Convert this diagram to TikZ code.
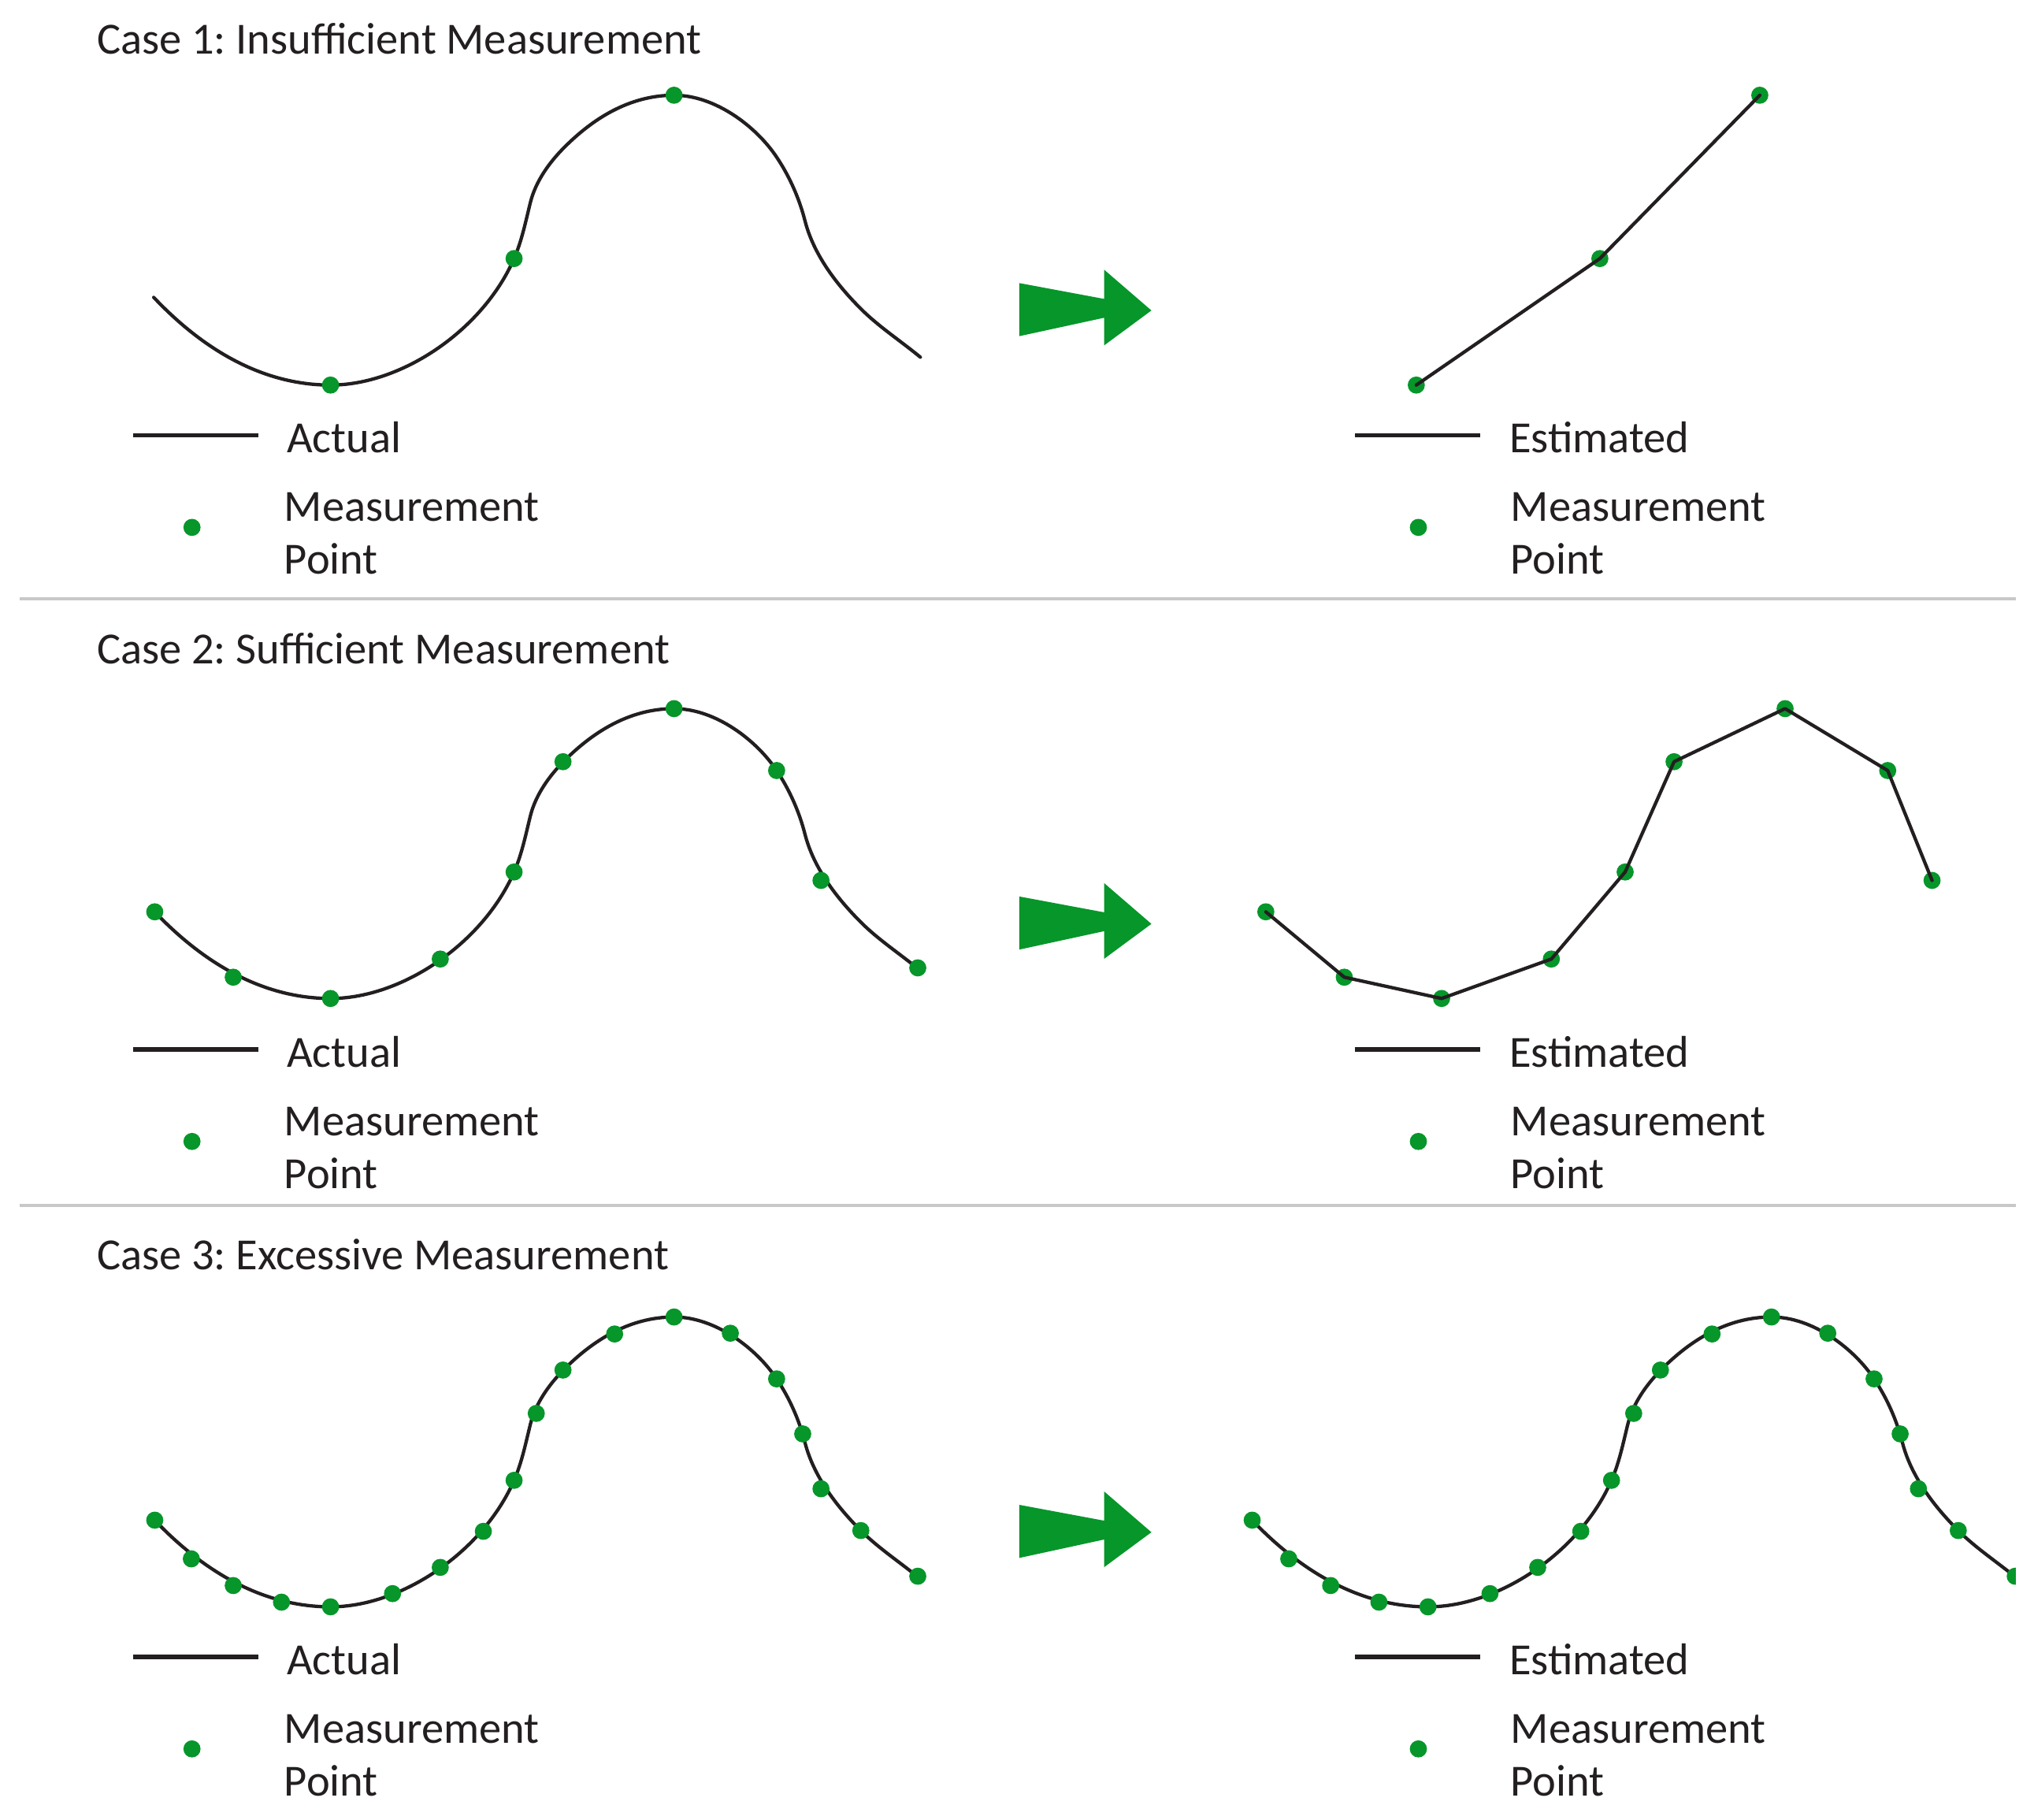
\documentclass[tikz,border=0pt]{standalone}
\usepackage{fontspec}
\setmainfont{Carlito}
\frenchspacing
\definecolor{mgreen}{RGB}{6,150,42}
\definecolor{sepgray}{RGB}{200,200,200}
\definecolor{ink}{RGB}{35,31,32}
\def\allpts{119.3/230.0, 147.5/259.8, 179.8/280.4, 217.0/293.2, 254.8/296.8, 302.6/286.6, 339.4/266.4, 372.6/238.6, 396.3/199.3, 413.4/147.7, 434.0/114.3, 473.8/86.5, 519.6/73.4, 563.0/85.9, 598.7/121.1, 618.8/163.5, 632.9/205.8, 663.6/238.0, 707.5/273.2}
\def\oddpts{119.3/230.0, 179.8/280.4, 254.8/296.8, 339.4/266.4, 396.3/199.3, 434.0/114.3, 519.6/73.4, 598.7/121.1, 632.9/205.8, 707.5/273.2}
\def\oddptsshort{119.3/230.0, 179.8/280.4, 254.8/296.8, 339.4/266.4, 396.3/199.3, 434.0/114.3, 519.6/73.4, 598.7/121.1, 632.9/205.8}
\def\fewpts{254.8/296.8, 396.3/199.3, 519.6/73.4}
\begin{document}
\begin{tikzpicture}[x=1pt,y=-1pt,
  curve/.style={line width=2.6pt, ink, line join=round, line cap=round},
  legline/.style={line width=3.4pt, ink},
  mdot/.style={fill=mgreen},
  lbl/.style={anchor=base west, inner sep=0pt, text=ink, font=\fontsize{34.3}{40.8}\selectfont},
  sepline/.style={line width=2.5pt, sepgray},
  bigarrow/.style={fill=mgreen},
  wave/.pic={\draw[curve] (118.5,229.2)
      .. controls (159,272) and (205,296.8) .. (254.8,296.8)
      .. controls (309.8,296.8) and (372.3,254.3) .. (396.3,199.3)
      .. controls (402.3,185.5) and (405.3,170.4) .. (408.9,155.9)
      .. controls (413.0,139.7) and (423.4,125.2) .. (435.2,113.4)
      .. controls (456.4,92.2) and (484.6,73.4) .. (519.6,73.4)
      .. controls (551.6,73.4) and (583.2,97.8) .. (598.7,121.1)
      .. controls (608.6,135.9) and (616.1,152.8) .. (620.5,170.0)
      .. controls (627.1,196.0) and (644.7,219.1) .. (663.6,238.0)
      .. controls (677.2,251.6) and (693.4,262.1) .. (709.5,275.3);}
]
\useasboundingbox[fill=white] (0,0) rectangle (1568,1402.8);

% separators
\draw[sepline] (15,461.6) -- (1554,461.6);
\draw[sepline] (15,929.3) -- (1554,929.3);

% titles
\node[lbl] (title1) at (74.5,41.4) {Case 1: Insufficient Measurement};
\node[lbl] (title2) at (74.5,511.4) {Case 2: Sufficient Measurement};
\node[lbl] (title3) at (74.5,978.4) {Case 3: Excessive Measurement};

% arrows and legends
\foreach \dy/\ady in {0/0, 473.3/472.8, 941.5/941.7} {
  \begin{scope}[shift={(0,\ady)}]
    \fill[bigarrow] (785.8,218.2) -- (851.2,230.4) -- (851.2,207.9) -- (887.6,239.3)
      -- (851.2,266.2) -- (851.2,244.9) -- (785.8,259.1) -- cycle;
  \end{scope}
  \begin{scope}[shift={(0,\dy)}]
    \draw[legline] (102.5,335.5) -- (199,335.5);
    \node[lbl] at (221,349) {Actual};
    \fill[mdot] (148,406.5) circle (6.6pt);
    \node[lbl] at (219,401.8) {\begin{tabular}[t]{@{}l@{}}Measurement\\Point\end{tabular}};
    \draw[legline] (1044.4,335.5) -- (1141,335.5);
    \node[lbl] at (1163.5,349) {Estimated};
    \fill[mdot] (1093.4,406.5) circle (6.6pt);
    \node[lbl] at (1164.5,401.8) {\begin{tabular}[t]{@{}l@{}}Measurement\\Point\end{tabular}};
  \end{scope}
}

% ---- Case 1
\pic at (0,0) {wave};
\foreach \x/\y in \fewpts { \fill[mdot] (\x,\y) circle (6.6pt); }
\begin{scope}[shift={(837,0)}]
  \foreach \x/\y in \fewpts { \fill[mdot] (\x,\y) circle (6.6pt); }
  \draw[curve] (254.8,296.8) -- (396.3,199.3) -- (519.6,73.4);
\end{scope}

% ---- Case 2
\pic at (0,472.8) {wave};
\begin{scope}[shift={(0,472.8)}]
  \foreach \x/\y in \oddpts { \fill[mdot] (\x,\y) circle (6.6pt); }
\end{scope}
\begin{scope}[shift={(856.5,472.8)}]
  \foreach \x/\y in \oddptsshort { \fill[mdot] (\x,\y) circle (6.6pt); }
  \draw[curve] plot coordinates {(119.3,230.0) (179.8,280.4) (254.8,296.8) (339.4,266.4) (396.3,199.3) (434.0,114.3) (519.6,73.4) (598.7,121.1) (632.9,205.8)};
\end{scope}

% ---- Case 3
\pic at (0,941.7) {wave};
\begin{scope}[shift={(0,941.7)}]
  \foreach \x/\y in \allpts { \fill[mdot] (\x,\y) circle (6.6pt); }
\end{scope}
\begin{scope}
  \clip (0,930) rectangle (1554,1402.8);
  \pic at (846,941.7) {wave};
  \begin{scope}[shift={(846,941.7)}]
    \foreach \x/\y in \allpts { \fill[mdot] (\x,\y) circle (6.6pt); }
  \end{scope}
\end{scope}
\end{tikzpicture}
\end{document}
